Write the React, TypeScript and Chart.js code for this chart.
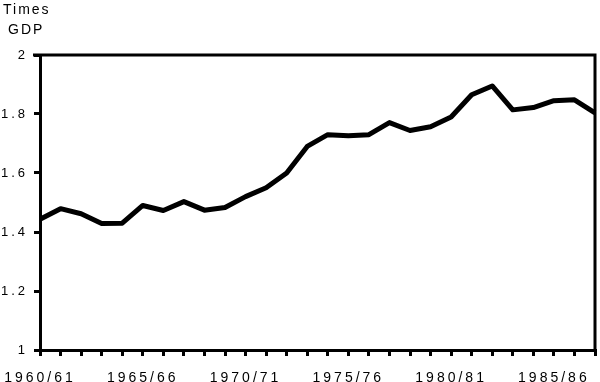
import { useEffect, useRef } from "react";
import { Chart, registerables } from "chart.js";

Chart.register(...registerables);

const years = [
  "1960/61", "1961/62", "1962/63", "1963/64", "1964/65", "1965/66", "1966/67",
  "1967/68", "1968/69", "1969/70", "1970/71", "1971/72", "1972/73", "1973/74",
  "1974/75", "1975/76", "1976/77", "1977/78", "1978/79", "1979/80", "1980/81",
  "1981/82", "1982/83", "1983/84", "1984/85", "1985/86", "1986/87", "1987/88",
];

const timesGDP = [
  1.443, 1.479, 1.462, 1.429, 1.430, 1.490, 1.473, 1.503, 1.474, 1.483,
  1.520, 1.550, 1.600, 1.690, 1.730, 1.726, 1.730, 1.771, 1.744, 1.757,
  1.790, 1.865, 1.895, 1.814, 1.822, 1.845, 1.848, 1.804,
];

const shownYearLabels = ["1960/61", "1965/66", "1970/71", "1975/76", "1980/81", "1985/86"];

const yTickValues = [1, 1.2, 1.4, 1.6, 1.8, 2];
const yTickLabels = ["1", "1.2", "1.4", "1.6", "1.8", "2"];

const unitLines = ["Times", "GDP"];

const FONT = "'Liberation Sans', Arial, Helvetica, sans-serif";

export default function App() {
  const ref = useRef<HTMLCanvasElement | null>(null);

  useEffect(() => {
    if (!ref.current) return;

    const spacingPlugin = {
      id: "spacing",
      beforeUpdate(chart: any) {
        chart.ctx.letterSpacing = "3px";
      },
      beforeLayout(chart: any) {
        chart.ctx.letterSpacing = "3px";
      },
      beforeDraw(chart: any) {
        chart.ctx.letterSpacing = "3px";
      },
      afterDraw(chart: any) {
        const { ctx, chartArea } = chart;
        ctx.save();
        ctx.strokeStyle = "#000";
        ctx.lineWidth = 3;
        ctx.beginPath();
        ctx.moveTo(chartArea.left - 7, chartArea.top);
        ctx.lineTo(chartArea.right, chartArea.top);
        ctx.lineTo(chartArea.right, chartArea.bottom);
        ctx.stroke();
        ctx.fillStyle = "#000";
        ctx.letterSpacing = "2px";
        ctx.font = `14px ${FONT}`;
        ctx.textBaseline = "alphabetic";
        ctx.textAlign = "left";
        ctx.fillText(unitLines[0], 3, 14);
        ctx.fillText(unitLines[1], 8, 34);
        ctx.restore();
      },
    };

    const chart = new Chart(ref.current, {
      type: "line",
      data: {
        labels: years,
        datasets: [
          {
            data: timesGDP,
            borderColor: "#000",
            borderWidth: 5,
            pointRadius: 0,
            tension: 0,
            borderJoinStyle: "round",
            borderCapStyle: "butt",
          },
        ],
      },
      options: {
        animation: false,
        responsive: false,
        layout: { padding: { top: 55, right: 5, left: 0, bottom: 0 } },
        plugins: {
          legend: { display: false },
          tooltip: { enabled: false },
          title: { display: false },
        },
        scales: {
          x: {
            type: "category",
            offset: false,
            afterFit(scale: any) {
              scale.height = 32;
              scale.paddingLeft = 0;
              scale.paddingRight = 0;
            },
            grid: {
              display: true,
              drawOnChartArea: false,
              drawTicks: true,
              tickLength: 6,
              lineWidth: 3,
              color: "#000",
            },
            border: { display: true, color: "#000", width: 3 },
            ticks: {
              autoSkip: false,
              maxRotation: 0,
              minRotation: 0,
              padding: 14,
              color: "#000",
              font: { family: FONT, size: 14 },
              callback(_v: any, i: number) {
                const l = years[i];
                return shownYearLabels.includes(l) ? l : "";
              },
            },
          },
          y: {
            min: 1,
            max: 2,
            afterFit(scale: any) {
              scale.width = 40;
            },
            afterBuildTicks(scale: any) {
              scale.ticks = yTickValues.map((v) => ({ value: v }));
            },
            grid: {
              display: true,
              drawOnChartArea: false,
              drawTicks: true,
              tickLength: 6,
              lineWidth: 3,
              color: "#000",
            },
            border: { display: true, color: "#000", width: 3 },
            ticks: {
              padding: 6,
              color: "#000",
              font: { family: FONT, size: 13 },
              callback(_v: any, i: number) {
                return yTickLabels[i];
              },
            },
          },
        },
      },
      plugins: [spacingPlugin],
    } as any);

    return () => chart.destroy();
  }, []);

  return (
    <div style={{ position: "absolute", left: 0, top: 0, width: 600, height: 382, background: "#fff" }}>
      <canvas ref={ref} width={600} height={382} />
    </div>
  );
}
